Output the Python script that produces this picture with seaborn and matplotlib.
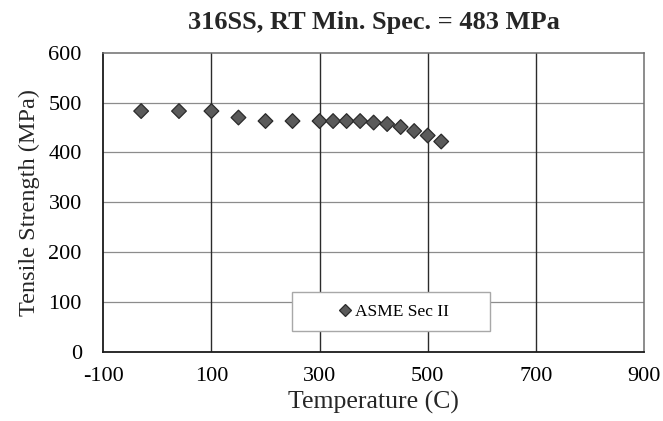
import matplotlib
matplotlib.use("Agg")
import matplotlib.pyplot as plt
from matplotlib.patches import Rectangle
from matplotlib.ticker import FuncFormatter
import seaborn as sns
import pandas as pd

# ASME Section II tensile strength of 316 stainless steel vs temperature
temperature_c = [-30, 40, 100, 150, 200, 250, 300, 325, 350, 375, 400, 425, 450, 475, 500, 525]
tensile_mpa = [483, 483, 483, 470, 463, 463, 463, 463, 463, 463, 460, 457, 451, 443, 434, 422]
series_name = "ASME Sec II"

x_ticks = [-100, 100, 300, 500, 700, 900]
y_ticks = [0, 100, 200, 300, 400, 500, 600]

df = pd.DataFrame({"Temperature (C)": temperature_c,
                   "Tensile Strength (MPa)": tensile_mpa,
                   "source": series_name})

sns.set_theme(style="white")
plt.rcParams["font.family"] = ["Liberation Serif", "DejaVu Serif"]

fig = plt.figure(figsize=(6.63, 4.21), dpi=100)
ax = fig.add_axes([0.1558, 0.1639, 0.8155, 0.7109])

# grid
for yv in y_ticks[1:-1]:
    ax.axhline(yv, color="#8c8c8c", lw=0.9, zorder=0)
for xv in x_ticks[1:-1]:
    ax.axvline(xv, color="#2b2b2b", lw=1.0, zorder=0)

sns.scatterplot(data=df, x="Temperature (C)", y="Tensile Strength (MPa)",
                hue="source", palette=["#5a5a5a"], marker="D", s=56,
                edgecolor="#2a2a2a", linewidth=0.9, ax=ax, zorder=3)

ax.set_xlim(-100, 900)
ax.set_ylim(0, 600)
ax.set_xticks(x_ticks)
ax.set_yticks(y_ticks)
ax.xaxis.set_major_formatter(FuncFormatter(lambda v, p: f"{v:.0f}"))
ax.tick_params(axis="both", labelsize=16, colors="black", length=0)
ax.tick_params(axis="y", length=5, width=0.9, color="#555555", direction="out", pad=10.5)
ax.tick_params(axis="x", pad=11)

ax.set_xlabel("Temperature (C)", fontsize=18.5, labelpad=3)
ax.set_ylabel("Tensile Strength (MPa)", fontsize=17.5, labelpad=6)
ax.set_title("316SS, RT Min. Spec. = 483 MPa", fontsize=19, fontweight="bold", pad=17)

for side in ["left", "bottom"]:
    ax.spines[side].set_color("#1a1a1a")
    ax.spines[side].set_linewidth(1.3)
for side in ["top", "right"]:
    ax.spines[side].set_color("#6e6e6e")
    ax.spines[side].set_linewidth(1.1)

# legend box
ax.add_patch(Rectangle((0.3484, 0.0702), 0.3667, 0.1303, transform=ax.transAxes,
                       facecolor="white", edgecolor="#a8a8a8", lw=1.0, zorder=4))
leg = ax.legend(loc="center", bbox_to_anchor=(0.5318, 0.1353), bbox_transform=ax.transAxes,
                fontsize=12.5, frameon=False, handletextpad=-0.1, handlelength=1.4,
                borderpad=0, markerscale=0.85, borderaxespad=0)
leg.set_zorder(5)
for t in leg.get_texts():
    t.set_color("black")

fig.savefig("out.png", dpi=100)
